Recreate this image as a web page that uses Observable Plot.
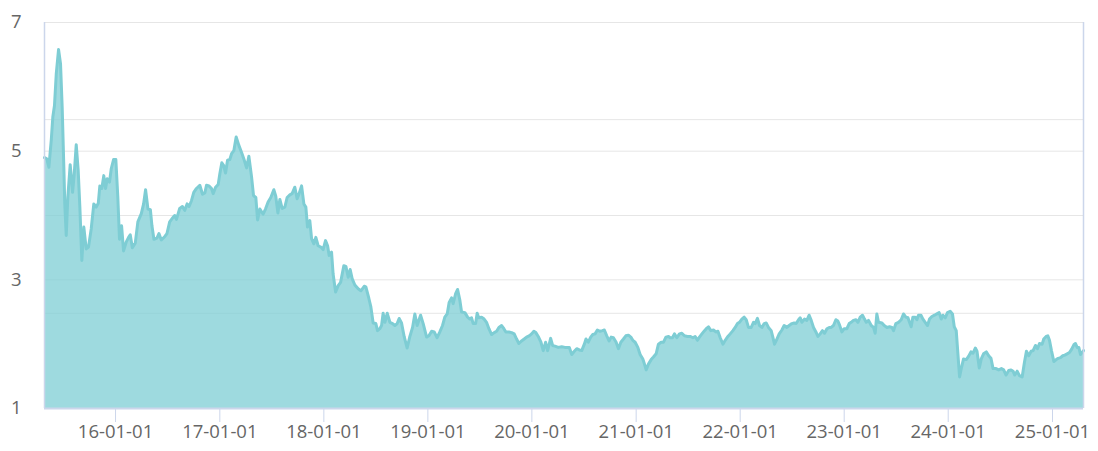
<!DOCTYPE html>
<html>
<head>
<meta charset="utf-8">
<script src="https://cdn.jsdelivr.net/npm/d3@7"></script>
<script src="https://cdn.jsdelivr.net/npm/@observablehq/plot@0.6"></script>
<style>
  html, body { margin: 0; padding: 0; background: #fff; }
  #chart svg { display: block; }
</style>
</head>
<body>
<div id="chart"></div>
<script>
// Time as decimal years
const years = [
2015.317,2015.339,2015.359,2015.382,2015.397,2015.413,2015.430,2015.452,2015.471,2015.487,
2015.503,2015.512,2015.526,2015.541,2015.564,2015.587,2015.603,2015.622,2015.641,2015.657,
2015.676,2015.695,2015.718,2015.740,2015.766,2015.791,2015.814,2015.834,2015.849,2015.868,
2015.887,2015.904,2015.920,2015.942,2015.959,2015.981,2016.003,2016.022,2016.038,2016.058,
2016.077,2016.103,2016.125,2016.141,2016.161,2016.189,2016.214,2016.247,2016.269,2016.288,
2016.311,2016.334,2016.349,2016.368,2016.397,2016.416,2016.439,2016.471,2016.493,2016.519,
2016.551,2016.567,2016.584,2016.615,2016.641,2016.663,2016.686,2016.705,2016.728,2016.750,
2016.776,2016.808,2016.834,2016.856,2016.872,2016.897,2016.920,2016.936,2016.959,2016.984,
2017.000,2017.019,2017.036,2017.055,2017.074,2017.096,2017.113,2017.135,2017.157,2017.183,
2017.209,2017.231,2017.257,2017.279,2017.305,2017.324,2017.346,2017.363,2017.385,2017.416,
2017.439,2017.464,2017.490,2017.519,2017.538,2017.558,2017.577,2017.599,2017.625,2017.647,
2017.673,2017.695,2017.721,2017.743,2017.762,2017.786,2017.808,2017.827,2017.843,2017.865,
2017.882,2017.904,2017.923,2017.945,2017.971,2017.993,2018.016,2018.036,2018.051,2018.074,
2018.089,2018.113,2018.138,2018.161,2018.192,2018.212,2018.234,2018.253,2018.272,2018.298,
2018.330,2018.356,2018.388,2018.404,2018.433,2018.452,2018.474,2018.500,2018.516,2018.538,
2018.555,2018.570,2018.587,2018.609,2018.635,2018.661,2018.683,2018.705,2018.724,2018.747,
2018.772,2018.801,2018.827,2018.853,2018.875,2018.897,2018.930,2018.955,2018.988,2019.010,
2019.036,2019.061,2019.089,2019.115,2019.141,2019.163,2019.186,2019.205,2019.228,2019.243,
2019.266,2019.286,2019.308,2019.324,2019.356,2019.382,2019.404,2019.420,2019.436,2019.459,
2019.474,2019.490,2019.516,2019.541,2019.564,2019.587,2019.613,2019.638,2019.661,2019.683,
2019.709,2019.731,2019.750,2019.779,2019.805,2019.830,2019.853,2019.875,2019.901,2019.926,
2019.949,2019.974,2019.997,2020.019,2020.038,2020.061,2020.087,2020.109,2020.132,2020.151,
2020.180,2020.199,2020.221,2020.253,2020.286,2020.317,2020.359,2020.382,2020.407,2020.430,
2020.455,2020.478,2020.503,2020.519,2020.541,2020.564,2020.584,2020.606,2020.628,2020.654,
2020.676,2020.695,2020.718,2020.740,2020.760,2020.782,2020.808,2020.830,2020.853,2020.878,
2020.901,2020.926,2020.949,2020.968,2020.990,2021.016,2021.038,2021.064,2021.080,2021.096,
2021.118,2021.144,2021.166,2021.192,2021.214,2021.240,2021.263,2021.286,2021.311,2021.327,
2021.349,2021.368,2021.391,2021.416,2021.439,2021.464,2021.493,2021.519,2021.545,2021.567,
2021.589,2021.608,2021.632,2021.657,2021.680,2021.695,2021.718,2021.743,2021.766,2021.786,
2021.808,2021.834,2021.856,2021.882,2021.904,2021.930,2021.952,2021.974,2021.993,2022.016,
2022.038,2022.058,2022.080,2022.106,2022.128,2022.144,2022.166,2022.186,2022.209,2022.231,
2022.250,2022.272,2022.298,2022.314,2022.330,2022.353,2022.375,2022.401,2022.423,2022.449,
2022.471,2022.497,2022.519,2022.538,2022.561,2022.577,2022.593,2022.618,2022.641,2022.663,
2022.683,2022.705,2022.728,2022.747,2022.769,2022.791,2022.811,2022.834,2022.856,2022.875,
2022.897,2022.920,2022.939,2022.955,2022.978,2023.000,2023.026,2023.048,2023.067,2023.089,
2023.113,2023.132,2023.154,2023.176,2023.195,2023.212,2023.234,2023.260,2023.282,2023.298,
2023.314,2023.330,2023.363,2023.385,2023.411,2023.436,2023.459,2023.474,2023.497,2023.522,
2023.548,2023.570,2023.593,2023.613,2023.628,2023.644,2023.660,2023.683,2023.699,2023.714,
2023.738,2023.757,2023.779,2023.801,2023.820,2023.843,2023.868,2023.891,2023.913,2023.933,
2023.949,2023.971,2023.993,2024.019,2024.041,2024.058,2024.077,2024.093,2024.109,2024.125,
2024.147,2024.173,2024.195,2024.218,2024.238,2024.260,2024.276,2024.298,2024.317,2024.339,
2024.365,2024.388,2024.410,2024.430,2024.459,2024.484,2024.510,2024.532,2024.555,2024.580,
2024.603,2024.622,2024.638,2024.661,2024.683,2024.709,2024.731,2024.750,2024.772,2024.795,
2024.814,2024.837,2024.856,2024.875,2024.901,2024.916,2024.939,2024.955,2024.971,2024.990,
2025.013,2025.036,2025.055,2025.077,2025.099,2025.118,2025.141,2025.163,2025.183,2025.205,
2025.221,2025.237,2025.253,2025.269,2025.285,2025.298
];
const values = [
4.90,4.88,4.75,5.17,5.53,5.71,6.20,6.58,6.36,5.68,
4.75,4.18,3.69,4.28,4.79,4.36,4.65,5.10,4.70,4.13,
3.30,3.82,3.48,3.51,3.79,4.18,4.13,4.19,4.46,4.42,
4.62,4.42,4.57,4.52,4.73,4.87,4.87,4.28,3.63,3.84,
3.45,3.59,3.66,3.70,3.50,3.57,3.90,4.03,4.18,4.40,
4.10,4.09,3.84,3.63,3.65,3.72,3.62,3.67,3.72,3.90,
3.97,4.00,3.94,4.11,4.14,4.08,4.18,4.14,4.23,4.36,
4.42,4.47,4.33,4.35,4.47,4.46,4.42,4.34,4.44,4.48,
4.65,4.82,4.78,4.66,4.86,4.87,4.96,5.01,5.22,5.09,
4.98,4.88,4.74,4.92,4.60,4.31,4.28,3.93,4.10,4.02,
4.10,4.21,4.28,4.40,4.30,4.04,4.25,4.11,4.13,4.28,
4.32,4.34,4.44,4.26,4.34,4.46,4.18,4.13,3.82,3.92,
3.64,3.56,3.66,3.53,3.51,3.47,3.61,3.53,3.38,3.43,
3.09,2.81,2.91,2.96,3.22,3.21,3.04,3.16,3.02,2.92,
2.86,2.83,2.90,2.89,2.71,2.58,2.33,2.32,2.21,2.24,
2.29,2.48,2.34,2.48,2.34,2.32,2.29,2.32,2.40,2.33,
2.12,1.94,2.12,2.26,2.47,2.29,2.45,2.32,2.11,2.13,
2.20,2.19,2.10,2.19,2.29,2.42,2.47,2.65,2.72,2.63,
2.78,2.85,2.68,2.50,2.49,2.42,2.39,2.41,2.32,2.32,
2.48,2.41,2.42,2.39,2.34,2.24,2.15,2.18,2.20,2.26,
2.29,2.24,2.19,2.19,2.18,2.16,2.08,2.01,2.05,2.08,
2.11,2.13,2.16,2.20,2.18,2.12,2.03,1.90,2.03,1.90,
2.09,1.98,1.97,1.95,1.96,1.95,1.95,1.84,1.89,1.93,
1.91,1.90,2.00,2.08,2.03,2.11,2.15,2.16,2.22,2.20,
2.21,2.22,2.13,2.05,2.11,2.10,2.03,1.93,2.03,2.08,
2.13,2.14,2.11,2.06,2.03,1.95,1.84,1.77,1.69,1.60,
1.69,1.76,1.80,1.85,2.00,2.03,2.03,2.11,2.12,2.10,
2.10,2.16,2.10,2.16,2.17,2.13,2.12,2.12,2.10,2.12,
2.06,2.11,2.16,2.21,2.25,2.27,2.21,2.22,2.19,2.20,
2.10,2.00,2.06,2.12,2.16,2.21,2.26,2.32,2.34,2.39,
2.42,2.38,2.26,2.26,2.34,2.32,2.40,2.29,2.26,2.32,
2.33,2.26,2.21,2.11,2.00,2.08,2.16,2.22,2.29,2.26,
2.29,2.32,2.33,2.32,2.38,2.41,2.34,2.39,2.37,2.45,
2.37,2.26,2.19,2.12,2.16,2.21,2.17,2.24,2.26,2.26,
2.29,2.38,2.36,2.30,2.19,2.24,2.24,2.32,2.34,2.37,
2.38,2.34,2.42,2.45,2.39,2.34,2.37,2.29,2.26,2.17,
2.47,2.34,2.33,2.29,2.26,2.27,2.26,2.21,2.32,2.34,
2.38,2.47,2.42,2.41,2.34,2.27,2.42,2.42,2.38,2.45,
2.45,2.39,2.34,2.29,2.39,2.43,2.45,2.47,2.49,2.39,
2.45,2.41,2.49,2.51,2.47,2.27,2.21,1.85,1.49,1.62,
1.77,1.76,1.81,1.88,1.86,1.94,1.89,1.63,1.77,1.85,
1.88,1.82,1.78,1.62,1.62,1.60,1.62,1.60,1.52,1.59,
1.60,1.58,1.52,1.58,1.51,1.49,1.72,1.89,1.82,1.89,
1.90,1.98,1.93,2.01,2.00,2.08,2.12,2.13,2.06,1.90,
1.73,1.76,1.78,1.79,1.82,1.83,1.85,1.87,1.92,1.99,
2.01,1.95,1.95,1.84,1.87,1.90
];
const yTickValues = [1, 3, 5, 7];
const refLineValues = [5.49, 4.0, 2.48];
const xTickYears = [2016, 2017, 2018, 2019, 2020, 2021, 2022, 2023, 2024, 2025];

function yearToDate(y) {
  const Y = Math.floor(y);
  const s = Date.UTC(Y, 0, 1), e = Date.UTC(Y + 1, 0, 1);
  return new Date(s + (y - Y) * (e - s));
}

const data = years.map((t, i) => ({date: yearToDate(t), value: values[i]}));
const xDomain = [data[0].date, data[data.length - 1].date];
const xTicks = xTickYears.map(y => new Date(Date.UTC(y, 0, 1)));

const teal = "#7ecdd4";
const axisColor = "#ccd6eb";
const gridColor = "#e6e6e6";

const chart = Plot.plot({
  width: 1098,
  height: 451,
  marginLeft: 44,
  marginRight: 15,
  marginTop: 22,
  marginBottom: 43,
  style: {fontFamily: "'Open Sans', sans-serif", fontSize: "18.5px", color: "#666666", background: "#ffffff"},
  x: {type: "utc", domain: xDomain},
  y: {domain: [1, 7]},
  marks: [
    Plot.ruleY(yTickValues, {stroke: gridColor, strokeWidth: 1}),
    Plot.ruleY(refLineValues, {stroke: gridColor, strokeWidth: 1}),
    Plot.areaY(data, {x: "date", y1: 1, y2: "value", fill: teal, fillOpacity: 0.75}),
    Plot.lineY(data, {x: "date", y: "value", stroke: teal, strokeWidth: 3, strokeLinejoin: "round"}),
    Plot.ruleX([xDomain[0]], {stroke: axisColor, strokeWidth: 1.5}),
    Plot.ruleX([xDomain[1]], {stroke: axisColor, strokeWidth: 1.5}),
    Plot.ruleY([1], {stroke: axisColor, strokeWidth: 2}),
    Plot.axisX({ticks: xTicks, tickFormat: d3.utcFormat("%y-%m-%d"), tickSize: 14, tickPadding: 2, stroke: axisColor, fill: "#666666", label: null}),
    Plot.axisY({ticks: yTickValues, tickFormat: d3.format("d"), tickSize: 0, tickPadding: 23, fill: "#666666", label: null})
  ]
});
document.getElementById("chart").appendChild(chart);
</script>
</body>
</html>
